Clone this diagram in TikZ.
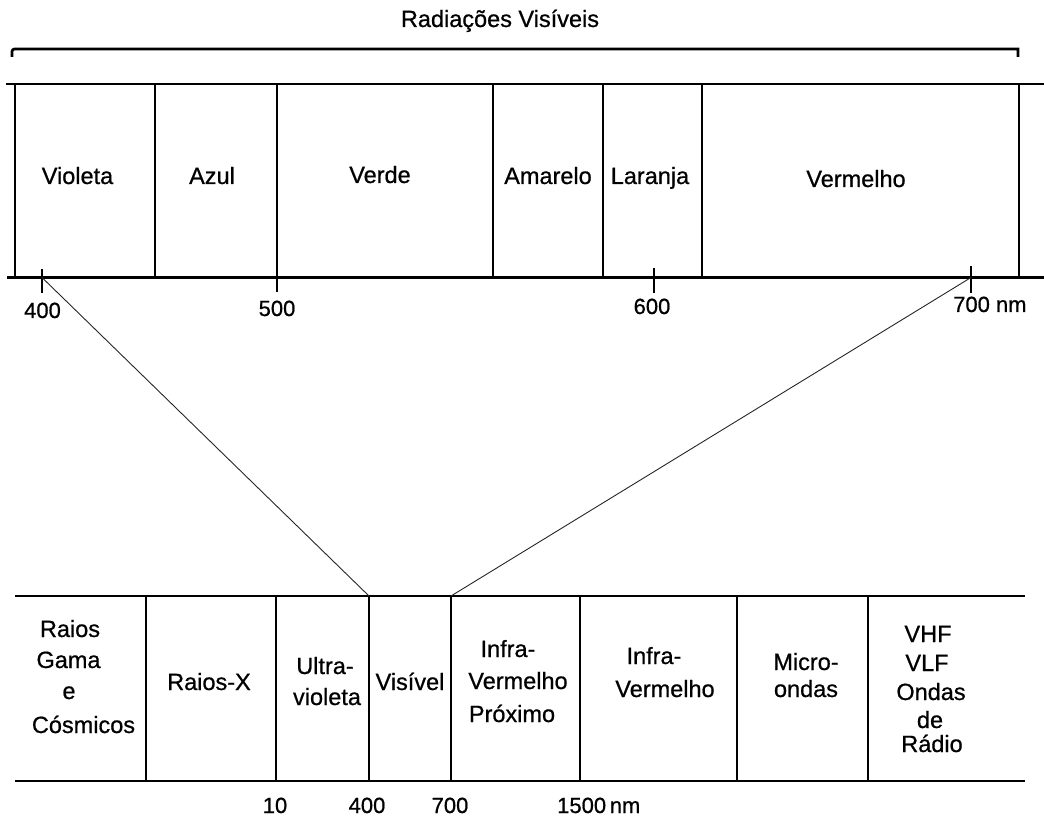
\documentclass[tikz,border=0pt]{standalone}
\usepackage{fontspec}
\setmainfont{Liberation Sans}[BoldFont=Liberation Sans, BoldFeatures={FakeBold=0.7}]
\begin{document}
\begin{tikzpicture}[x=1pt,y=-1pt,
  band/.style={line width=2.7pt},
  zoomline/.style={line width=0.9pt, black!85},
  lbl/.style={anchor=base, inner sep=0pt, font=\bfseries\fontsize{23.5}{28}\selectfont},
  num/.style={lbl, font=\bfseries\fontsize{22}{26}\selectfont},
]
\useasboundingbox (0,0) rectangle (1044,818);

% bracket over the visible range
\node[lbl] (title) at (500,27) {Radiações Visíveis};
\draw[band] (12,57) [rounded corners=2.5pt] -- (12,49) [sharp corners] -- (1018,49) -- (1018,57);

% visible band
\draw[band] (6,84) -- (1044,84);
\draw[band] (7,277.5) -- (1044,277.5);
\foreach \x in {15,155,277,493,603,702,1019}
  \draw[band] (\x,84) -- (\x,277.5);

\node[lbl] (violeta)  at (77.5,184) {Violeta};
\node[lbl] (azul)     at (212,184)  {Azul};
\node[lbl] (verde)    at (380,183)  {Verde};
\node[lbl] (amarelo)  at (548,184)  {Amarelo};
\node[lbl] (laranja)  at (650,184)  {Laranja};
\node[lbl] (vermelho) at (856,187)  {Vermelho};

% wavelength ticks of the visible band
\coordinate (t400) at (42,277.5);
\coordinate (t700) at (971,277.5);
\draw[band] (42,269) -- (42,293);
\draw[band] (277,277.5) -- (277,292);
\draw[band] (654,268) -- (654,293);
\draw[band] (971,266) -- (971,293);

\node[num] (n400) at (42.5,318) {400};
\node[num] (n500) at (277,316)  {500};
\node[num] (n600) at (652,314)  {600};
\node[num, anchor=base west] (n700) at (953,312) {700 nm};

% full spectrum band
\draw[band] (15,596) -- (1025,596);
\draw[band] (15,781) -- (1025,781);
\foreach \x in {146,276,369,451,580,737,868}
  \draw[band] (\x,596) -- (\x,781);
\coordinate (b400) at (369,596);
\coordinate (b700) at (451,596);

\node[lbl] (g1) at (70,637)   {Raios};
\node[lbl] (g2) at (68.5,668) {Gama};
\node[lbl] (g3) at (69,699)   {e};
\node[lbl] (g4) at (83.5,733) {Cósmicos};

\node[lbl] (raiosx) at (209,690) {Raios-X};

\node[lbl] (uv1) at (325,674) {Ultra-};
\node[lbl] (uv2) at (327,705) {violeta};

\node[lbl] (vis) at (410,690) {Visível};

\node[lbl] (irp1) at (508,657) {Infra-};
\node[lbl] (irp2) at (518,689) {Vermelho};
\node[lbl] (irp3) at (512,722) {Próximo};

\node[lbl] (ir1) at (654,664) {Infra-};
\node[lbl] (ir2) at (665,697) {Vermelho};

\node[lbl] (mw1) at (806,670) {Micro-};
\node[lbl] (mw2) at (806,697) {ondas};

\node[lbl] (r1) at (928,642) {VHF};
\node[lbl] (r2) at (927,671) {VLF};
\node[lbl] (r3) at (931,700) {Ondas};
\node[lbl] (r4) at (930,728) {de};
\node[lbl] (r5) at (932,752) {Rádio};

% wavelength marks of the full band
\node[num] (m10)   at (275,813) {10};
\node[num] (m400)  at (367,813) {400};
\node[num] (m700)  at (450,813) {700};
\node[num, anchor=base west] (m1500) at (557,813) {1500\,nm};

% zoom lines from the visible band to its slot in the spectrum
\draw[zoomline] (t400) -- (b400);
\draw[zoomline] (t700) -- (b700);
\end{tikzpicture}
\end{document}
